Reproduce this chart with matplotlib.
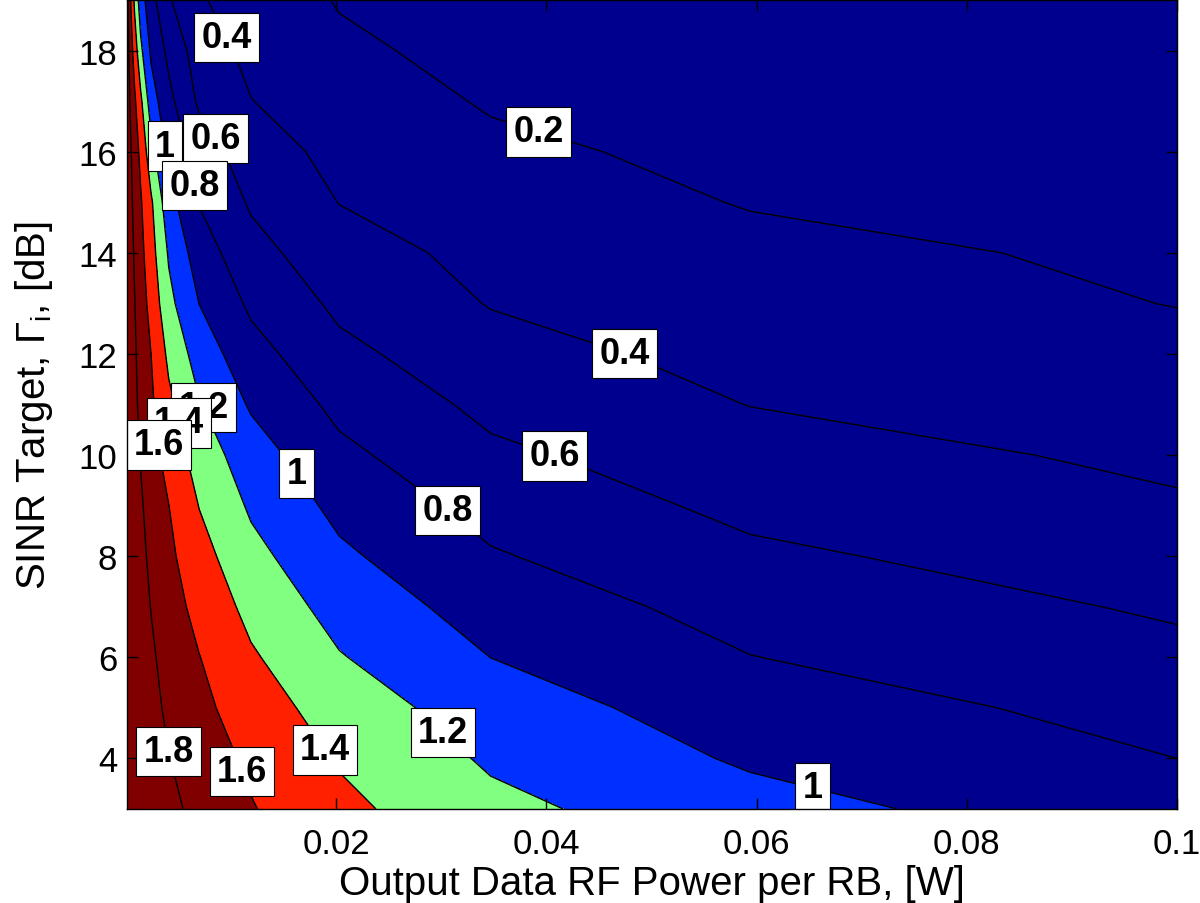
import numpy as np
import matplotlib
matplotlib.use('Agg')
import matplotlib.pyplot as plt

plt.rcParams['font.family'] = ['Liberation Sans', 'DejaVu Sans']
plt.rcParams['mathtext.fontset'] = 'custom'
plt.rcParams['mathtext.rm'] = 'Liberation Sans'
plt.rcParams['mathtext.it'] = 'Liberation Sans:italic'

# ---- data ----
power_w = [0.0001, 0.000163, 0.000278, 0.000476, 0.000814, 0.00139, 0.00238,
           0.00407, 0.00696, 0.0119, 0.0203, 0.0347, 0.0594, 0.1]
sinr_target_db = [3, 4, 5, 6, 7, 8, 9, 10, 11, 12, 13, 14, 15, 16, 17, 18, 19]
efficiency = [
    [1.969, 1.969, 1.967, 1.964, 1.958, 1.944, 1.915, 1.854, 1.739, 1.612, 1.448, 1.250, 1.071, 0.865],
    [1.968, 1.967, 1.964, 1.959, 1.948, 1.927, 1.886, 1.806, 1.692, 1.566, 1.382, 1.173, 0.973, 0.800],
    [1.968, 1.966, 1.962, 1.955, 1.940, 1.913, 1.860, 1.762, 1.650, 1.498, 1.307, 1.095, 0.895, 0.731],
    [1.967, 1.965, 1.961, 1.952, 1.934, 1.900, 1.832, 1.720, 1.605, 1.424, 1.212, 0.999, 0.804, 0.650],
    [1.967, 1.964, 1.958, 1.947, 1.925, 1.881, 1.795, 1.680, 1.542, 1.343, 1.125, 0.913, 0.726, 0.573],
    [1.966, 1.962, 1.955, 1.941, 1.913, 1.858, 1.755, 1.641, 1.472, 1.258, 1.035, 0.818, 0.637, 0.494],
    [1.965, 1.960, 1.951, 1.933, 1.897, 1.828, 1.716, 1.602, 1.395, 1.172, 0.947, 0.730, 0.551, 0.423],
    [1.963, 1.958, 1.946, 1.922, 1.877, 1.789, 1.675, 1.527, 1.309, 1.090, 0.846, 0.636, 0.484, 0.358],
    [1.961, 1.954, 1.939, 1.909, 1.851, 1.746, 1.632, 1.445, 1.214, 0.977, 0.749, 0.552, 0.396, 0.291],
    [1.961, 1.953, 1.935, 1.901, 1.832, 1.719, 1.601, 1.357, 1.111, 0.871, 0.648, 0.473, 0.333, 0.241],
    [1.959, 1.950, 1.930, 1.889, 1.809, 1.692, 1.537, 1.254, 0.998, 0.764, 0.559, 0.390, 0.275, 0.196],
    [1.957, 1.945, 1.921, 1.872, 1.776, 1.659, 1.479, 1.178, 0.898, 0.666, 0.478, 0.345, 0.246, 0.168],
    [1.952, 1.937, 1.906, 1.844, 1.736, 1.621, 1.431, 1.071, 0.791, 0.576, 0.396, 0.290, 0.190, 0.133],
    [1.948, 1.929, 1.890, 1.810, 1.694, 1.558, 1.271, 0.943, 0.703, 0.491, 0.344, 0.235, 0.154, 0.106],
    [1.936, 1.908, 1.850, 1.747, 1.635, 1.445, 1.095, 0.854, 0.567, 0.404, 0.289, 0.184, 0.124, 0.084],
    [1.925, 1.884, 1.796, 1.675, 1.516, 1.247, 0.969, 0.750, 0.500, 0.349, 0.231, 0.148, 0.099, 0.066],
    [1.908, 1.845, 1.721, 1.582, 1.364, 1.100, 0.868, 0.619, 0.420, 0.298, 0.189, 0.127, 0.086, 0.058],
]
line_levels = [0.2, 0.4, 0.6, 0.8, 1.0, 1.2, 1.4, 1.6, 1.8]
fill_levels = [0.0, 1.0, 1.2, 1.4, 1.6, 2.0]
x_ticks = [0.02, 0.04, 0.06, 0.08, 0.1]
x_tick_labels = ['0.02', '0.04', '0.06', '0.08', '0.1']
y_ticks = [4, 6, 8, 10, 12, 14, 16, 18]

# ---- style / layout ----
fill_colors = ['#00008F', '#0030FF', '#80FF80', '#FF2000', '#800000']
label_spots = [(0.00924, 18.22), (0.0391, 16.27), (0.00343, 16.1), (0.0082, 16.22),
               (0.0064, 15.33), (0.0073, 10.93), (0.00495, 10.63), (0.0031, 10.2),
               (0.016, 9.6), (0.0303, 8.82), (0.0406, 9.9), (0.0473, 11.9),
               (0.0653, 3.4), (0.0299, 4.45), (0.0188, 4.15), (0.0112, 3.75),
               (0.0041, 4.14)]

W, H = 1200, 904
fig = plt.figure(figsize=(W / 100, H / 100), dpi=100)
ax = fig.add_axes([127 / W, 94 / H, 1050 / W, 809 / H])

X, Y = np.meshgrid(np.array(power_w), np.array(sinr_target_db))
Z = np.array(efficiency)

ax.contourf(X, Y, Z, levels=fill_levels, colors=fill_colors)
cs = ax.contour(X, Y, Z, levels=line_levels, colors='k', linewidths=1.0)
texts = ax.clabel(cs, manual=label_spots, inline=False,
                  fmt=lambda v: f'{v:g}', fontsize=26)
for t in texts:
    t.set_rotation(0)
    t.set_fontweight('bold')
    t.set_color('black')
    t.set_bbox(dict(boxstyle='square,pad=0.2', fc='white', ec='black', lw=0.8))
    t.set_zorder(10)

ax.set_xlim(power_w[0], 0.1)
ax.set_ylim(3, 19)
ax.set_xticks(x_ticks)
ax.set_xticklabels(x_tick_labels)
ax.set_yticks(y_ticks)
ax.tick_params(direction='in', top=True, right=True, length=8, width=1,
               labelsize=25, colors='black')
ax.tick_params(axis='x', pad=13)
ax.tick_params(axis='y', pad=7)
for s in ax.spines.values():
    s.set_linewidth(1.0)
    s.set_zorder(12)

ax.set_xlabel('Output Data RF Power per RB, [W]', fontsize=29)
ax.xaxis.set_label_coords(0.5, (904 - 895 - 94) / 809)
ax.xaxis.label.set_va('baseline')
ax.set_ylabel(r'SINR Target, $\mathrm{\Gamma_i}$, [dB]', fontsize=29)
ax.yaxis.set_label_coords((45 - 127) / 1050, 0.5)
ax.yaxis.label.set_va('baseline')

fig.savefig('out.png', dpi=100)
